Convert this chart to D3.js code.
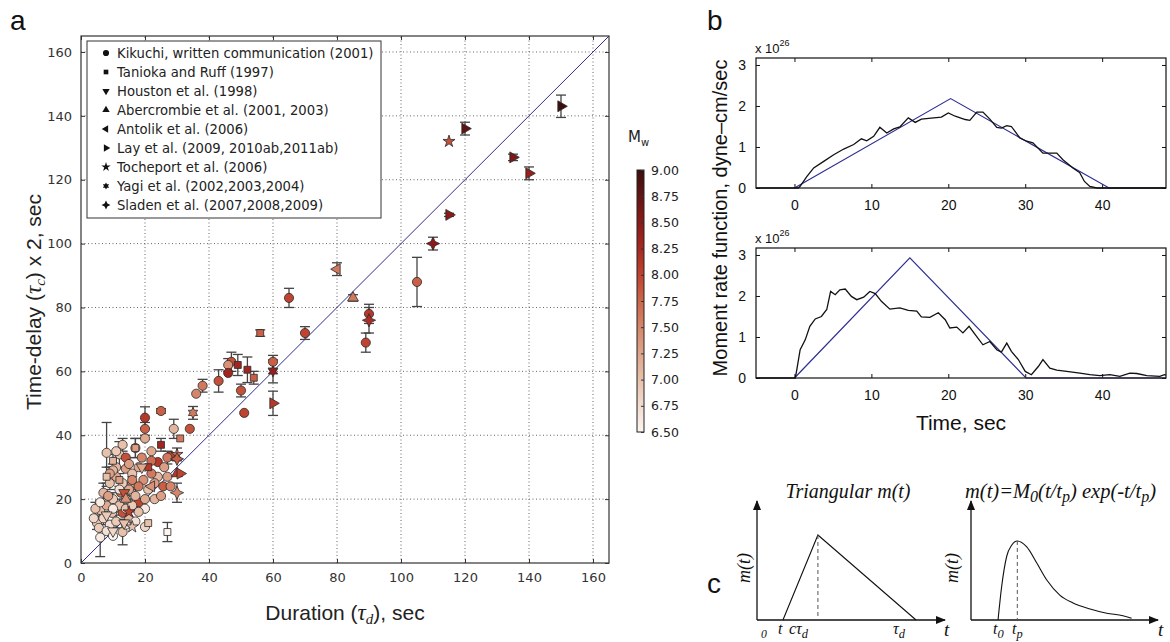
<!DOCTYPE html>
<html>
<head>
<meta charset="utf-8">
<script src="https://cdn.jsdelivr.net/npm/d3@7"></script>
<style>
  body { margin: 0; background: #fff; }
  svg { display: block; }
</style>
</head>
<body>
<svg id="fig" width="1170" height="642"></svg>
<script>
// ---------- data (panel a): [duration, timeDelay, errorHalf, Mw] ----------
const kikuchi = [
  [105, 88, 7.7, 7.8], [90, 78, 3, 8.1], [89, 69, 3, 8.0], [65, 83, 3, 8.0], [70, 72, 2, 8.0],
  [60, 63, 2, 7.8], [47, 63, 3, 7.9], [46, 62, 2, 7.4], [46, 59.5, 0, 8.3], [50, 54, 2, 7.9],
  [51, 47, 0, 8.0], [43, 57, 3.5, 7.9], [38, 55.5, 2, 7.6], [36, 53, 0, 7.5], [25, 47.6, 0.7, 7.8],
  [20, 45.5, 3.4, 8.1], [20, 42, 2, 7.8], [20, 39, 0, 7.2], [29, 42, 3, 7.1], [34, 42, 0, 7.9],
  [28, 33.5, 0, 8.0], [8, 34.5, 9.5, 7.0], [12, 34, 4, 7.0], [14, 33, 0, 7.9], [11, 30, 3, 7.1],
  [14, 29.5, 0, 7.3], [24, 31.6, 0, 8.1], [24, 27, 0, 7.1], [27, 27, 0, 7.3], [19.5, 26, 0, 7.4],
  [16, 25, 2, 7.3], [12.5, 22, 0, 7.7], [23, 25, 0, 7.3], [25.7, 24, 0, 7.8], [28, 24, 0, 7.5],
  [18, 19, 0, 8.0], [20, 20, 0, 7.2], [20, 17, 0, 6.6], [13, 15.7, 0, 7.9], [6, 16.6, 3, 7.0],
  [8, 18, 0, 7.2], [9.7, 15.7, 0, 7.0], [5, 12.5, 2, 6.9], [5.6, 11, 0, 6.9], [13, 9.7, 4, 7.0],
  [6, 8, 6, 6.6], [20, 11.3, 0, 6.8], [7, 22, 3, 7.1], [9, 25, 2, 7.0], [10, 20, 2, 6.9],
  [11, 27, 0, 7.2], [12, 18, 2, 7.0], [14, 20, 0, 6.8], [15, 23, 2, 7.2], [16, 28, 0, 7.0],
  [17, 21, 3, 7.1], [18, 30, 0, 7.2], [13, 25, 0, 6.9], [7, 14, 2, 6.8], [9, 12, 0, 6.7],
  [11, 13, 2, 6.9], [15, 14, 0, 7.1], [17, 13, 0, 6.7], [4, 14, 0, 6.8], [4.5, 17, 2, 7.0],
  [6, 19, 0, 6.6], [8.5, 21, 0, 7.3], [10, 17, 0, 6.6], [12, 23, 0, 6.7], [14, 17, 0, 7.0],
  [16, 18, 2, 6.9], [18, 16, 0, 7.0], [21, 23, 0, 7.0], [22, 28, 0, 7.6], [26, 30, 0, 7.3],
  [27, 33, 2, 7.6], [22, 35, 0, 7.2], [19, 33, 0, 7.5], [15, 31, 0, 7.3], [10, 29, 2, 7.1],
  [17, 36, 3, 7.4], [13, 37, 2, 7.0], [11, 35, 0, 6.9], [23, 20, 0, 7.1], [25, 21, 0, 7.3],
  [22, 32, 0, 7.7], [9, 28, 2, 7.3], [16, 26, 0, 7.5], [14, 12, 0, 6.6], [8, 10, 0, 6.7],
  [10, 8.5, 0, 6.5], [18, 24, 0, 7.6]
];
const tanioka = [
  [56, 72, 1, 7.8], [52, 60.5, 4, 8.3], [54, 58, 2, 7.8], [49, 62, 3.3, 8.3], [31, 39, 0, 7.6],
  [25, 37, 2, 8.3], [21, 30, 0, 8.1], [17, 36, 3, 7.3], [21, 12.5, 0, 7.0], [27, 9.7, 3, 6.5],
  [12, 26, 2, 7.3], [8, 27, 3, 7.0], [10, 32, 2, 7.1]
];
const houston = [[13.5, 22, 0, 7.9], [10, 10, 0, 6.8], [13.5, 12.5, 0, 7.0], [19, 30, 0, 7.2], [8, 15, 0, 6.9]];
const abercrombie = [[85, 83, 1, 7.6], [30, 28, 0, 8.1], [14, 20, 0, 7.4]];
const antolik = [[80, 92, 2, 7.6], [22, 24, 0, 7.4]];
const lay = [
  [150, 143, 3.5, 9.0], [120, 136, 2, 8.8], [135, 127, 1, 8.6], [140, 122, 2, 8.4],
  [115, 109, 0.5, 8.5], [60, 50, 3.8, 8.1], [31, 28, 0, 8.0]
];
const tocheport = [[115, 132, 0, 7.9], [15, 16, 0, 8.0], [16, 11.3, 0, 7.0], [30, 34, 2, 7.6]];
const yagi = [[60, 60, 3.6, 8.4], [35, 47, 2, 7.6]];
const sladen = [[110, 100, 2, 8.5], [90, 76, 4, 8.2], [30, 32.6, 0, 7.8], [30, 22, 3, 7.5]];

const legendLabels = [
  "Kikuchi, written communication (2001)", "Tanioka and Ruff (1997)", "Houston et al. (1998)",
  "Abercrombie et al. (2001, 2003)", "Antolik et al. (2006)", "Lay et al. (2009, 2010ab,2011ab)",
  "Tocheport et al. (2006)", "Yagi et al. (2002,2003,2004)", "Sladen et al. (2007,2008,2009)"
];
const axisTicks = [0, 20, 40, 60, 80, 100, 120, 140, 160];
const mwTicks = [6.5, 6.75, 7.0, 7.25, 7.5, 7.75, 8.0, 8.25, 8.5, 8.75, 9.0];
const mwColors = ["#fcf5f1", "#f2dccf", "#e8c1ab", "#dea48a", "#d5866a", "#cb664b", "#c0432f", "#a82822", "#8a1b19", "#661413", "#3d0e0e"];

// ---------- data (panel b): [time, moment rate x1e26] ----------
const topObs = [
  [-5, 0], [0.5, 0], [0.74, 0.04], [1.6, 0.28], [2.5, 0.49], [3.8, 0.65], [5.1, 0.81], [6.4, 0.95],
  [7.7, 1.06], [8.7, 1.2], [9.4, 1.15], [10.3, 1.26], [11.1, 1.48], [12, 1.34], [12.9, 1.44],
  [13.7, 1.49], [14.8, 1.71], [15.7, 1.6], [16.5, 1.68], [18.1, 1.71], [19.1, 1.73], [20, 1.83],
  [20.9, 1.75], [22.2, 1.67], [22.8, 1.65], [23.7, 1.85], [24.5, 1.85], [25.4, 1.68], [26.3, 1.48],
  [26.9, 1.46], [27.6, 1.52], [28.2, 1.5], [29.3, 1.22], [30.2, 1.14], [31, 1.1], [32.3, 0.85],
  [34.1, 0.85], [34.9, 0.69], [36.2, 0.49], [37.1, 0.37], [37.7, 0.16], [38.4, 0.04], [39.3, 0], [48.3, 0]
];
const topModel = [[0, 0], [20.3, 2.18], [40.9, 0], [48.3, 0]];
const botObs = [
  [-5, 0], [0.1, 0], [0.3, 0.2], [0.74, 0.69], [1.4, 0.93], [2, 1.26], [2.7, 1.44], [3.5, 1.5],
  [4.2, 1.67], [4.7, 2.11], [5.3, 2.03], [5.9, 2.15], [6.6, 2.17], [7.4, 1.99], [8.1, 1.91],
  [9, 1.97], [9.8, 2.11], [10.5, 2.06], [11.3, 1.87], [12.4, 1.68], [13.7, 1.71], [14.8, 1.65],
  [15.9, 1.63], [16.5, 1.49], [17.6, 1.48], [18.7, 1.59], [19.6, 1.42], [20.2, 1.22], [21.1, 1.24],
  [21.9, 1.1], [22.7, 1.26], [23.5, 1.06], [24.5, 0.81], [25.4, 0.89], [26.3, 0.69], [26.9, 0.63],
  [27.6, 0.85], [28.2, 0.65], [29.1, 0.45], [30, 0.16], [30.8, 0.08], [31.7, 0.28], [32.3, 0.45],
  [33.2, 0.24], [34.1, 0.19], [35.4, 0.16], [37.1, 0.12], [38.4, 0.08], [39.7, 0.06], [41, 0.08],
  [42.3, 0.04], [43.6, 0.12], [44.5, 0.11], [45.8, 0.06], [47.5, 0.04], [48.1, 0.08], [48.3, 0.07]
];
const botModel = [[0, 0], [15, 2.93], [30.1, 0], [48.3, 0]];
const bTimeTicks = [0, 10, 20, 30, 40];
const bValTicks = [0, 1, 2, 3];

// ---------- data (panel c), schematic shapes ----------
const triShape = [[1.38, 0], [3.24, 1], [8.46, 0]];
const triPeak = 3.24;
const expShape = [
  [1.43, 0], [1.62, 0.39], [1.89, 0.75], [2.15, 0.88], [2.45, 0.93], [2.95, 0.86], [3.48, 0.67],
  [4.01, 0.47], [4.71, 0.29], [5.40, 0.20], [6.30, 0.13], [7.18, 0.08], [8.04, 0.05], [8.50, 0.02]
];
const expPeak = [2.45, 0.93];

const svg = d3.select("#fig");
const SANS = "'Liberation Sans', Arial, sans-serif";
const DEJA = "'DejaVu Sans', sans-serif";
const SERIF = "'Liberation Serif', 'Times New Roman', serif";

const mwColor = d3.scaleLinear().domain(mwTicks).range(mwColors);

// ---------- panel a ----------
const x = d3.scaleLinear().domain([0, 165]).range([81, 609]);
const y = d3.scaleLinear().domain([0, 165]).range([563, 36]);
const pa = svg.append("g");

pa.append("g").selectAll("line").data(axisTicks.slice(1)).join("line")
  .attr("x1", d => x(d)).attr("x2", d => x(d)).attr("y1", y(0)).attr("y2", y(165))
  .attr("stroke", "#666").attr("stroke-width", 1).attr("stroke-dasharray", "1,2.5");
pa.append("g").selectAll("line").data(axisTicks.slice(1)).join("line")
  .attr("y1", d => y(d)).attr("y2", d => y(d)).attr("x1", x(0)).attr("x2", x(165))
  .attr("stroke", "#666").attr("stroke-width", 1).attr("stroke-dasharray", "1,2.5");

function styleAxis(g) {
  g.select(".domain").remove();
  g.selectAll(".tick line").attr("stroke", "#333");
  g.selectAll("text").attr("font-family", DEJA).attr("font-size", 13).attr("fill", "#333");
}
pa.append("g").attr("transform", `translate(0,${y(0)})`)
  .call(d3.axisBottom(x).tickValues(axisTicks).tickSizeInner(-4).tickSizeOuter(0).tickPadding(10)).call(styleAxis);
pa.append("g").attr("transform", `translate(0,${y(165)})`)
  .call(d3.axisTop(x).tickValues(axisTicks).tickFormat("").tickSizeInner(-4).tickSizeOuter(0)).call(styleAxis);
pa.append("g").attr("transform", `translate(${x(0)},0)`)
  .call(d3.axisLeft(y).tickValues(axisTicks).tickSizeInner(-4).tickSizeOuter(0).tickPadding(9)).call(styleAxis);
pa.append("g").attr("transform", `translate(${x(165)},0)`)
  .call(d3.axisRight(y).tickValues(axisTicks).tickFormat("").tickSizeInner(-4).tickSizeOuter(0)).call(styleAxis);

// 1:1 line
pa.append("line").attr("x1", x(0)).attr("y1", y(0)).attr("x2", x(165)).attr("y2", y(165))
  .attr("stroke", "#2e2e90").attr("stroke-width", 1);

// custom symbols
const symbolStar6 = {
  draw(ctx, size) {
    const r = Math.sqrt(size / 2.4), ri = r * 0.55;
    for (let i = 0; i < 12; i++) {
      const a = -Math.PI / 2 + i * Math.PI / 6, rr = i % 2 ? ri : r;
      if (i === 0) ctx.moveTo(rr * Math.cos(a), rr * Math.sin(a)); else ctx.lineTo(rr * Math.cos(a), rr * Math.sin(a));
    }
    ctx.closePath();
  }
};
const symbolStar4 = {
  draw(ctx, size) {
    const r = Math.sqrt(size / 1.6), ri = r * 0.45;
    for (let i = 0; i < 8; i++) {
      const a = -Math.PI / 2 + i * Math.PI / 4, rr = i % 2 ? ri : r;
      if (i === 0) ctx.moveTo(rr * Math.cos(a), rr * Math.sin(a)); else ctx.lineTo(rr * Math.cos(a), rr * Math.sin(a));
    }
    ctx.closePath();
  }
};

const sources = [
  { data: kikuchi, type: d3.symbolCircle, size: 66, rot: 0 },
  { data: tanioka, type: d3.symbolSquare, size: 48, rot: 0 },
  { data: houston, type: d3.symbolTriangle, size: 52, rot: 180 },
  { data: abercrombie, type: d3.symbolTriangle, size: 52, rot: 0 },
  { data: antolik, type: d3.symbolTriangle, size: 52, rot: -90 },
  { data: lay, type: d3.symbolTriangle, size: 52, rot: 90 },
  { data: tocheport, type: d3.symbolStar, size: 45, rot: 0 },
  { data: yagi, type: symbolStar6, size: 70, rot: 0 },
  { data: sladen, type: symbolStar4, size: 70, rot: 0 }
];

// error bars
const bars = pa.append("g").attr("stroke", "#444").attr("stroke-width", 1.3);
sources.forEach(s => {
  s.data.filter(d => d[2] > 0).forEach(d => {
    const cx = x(d[0]), y1 = y(d[1] - d[2]), y2 = y(d[1] + d[2]);
    bars.append("line").attr("x1", cx).attr("x2", cx).attr("y1", y1).attr("y2", y2);
    bars.append("line").attr("x1", cx - 5).attr("x2", cx + 5).attr("y1", y1).attr("y2", y1);
    bars.append("line").attr("x1", cx - 5).attr("x2", cx + 5).attr("y1", y2).attr("y2", y2);
  });
});

// markers
const marks = pa.append("g");
sources.forEach(s => {
  marks.append("g").selectAll("path").data(s.data).join("path")
    .attr("d", d3.symbol().type(s.type).size(s.size))
    .attr("transform", d => `translate(${x(d[0])},${y(d[1])}) rotate(${s.rot})`)
    .attr("fill", d => mwColor(d[3]))
    .attr("stroke", "#2a2a2a").attr("stroke-width", 0.8);
});

// frame
pa.append("rect").attr("x", x(0)).attr("y", y(165)).attr("width", x(165) - x(0)).attr("height", y(0) - y(165))
  .attr("fill", "none").attr("stroke", "#333").attr("stroke-width", 1.2);

// legend
const lg = pa.append("g");
lg.append("rect").attr("x", 87).attr("y", 41).attr("width", 294).attr("height", 177)
  .attr("fill", "#fff").attr("stroke", "#333").attr("stroke-width", 1);
legendLabels.forEach((lab, i) => {
  const ly = 53 + i * 19;
  const s = sources[i];
  lg.append("path").attr("d", d3.symbol().type(s.type).size(s.size * (i === 6 ? 0.6 : 0.45)))
    .attr("transform", `translate(106,${ly}) rotate(${s.rot})`).attr("fill", "#111");
  lg.append("text").attr("x", 117).attr("y", ly).attr("dy", "0.35em")
    .attr("font-family", DEJA).attr("font-size", 13.2).attr("fill", "#222").text(lab);
});

// axis titles
const ylab = pa.append("text").attr("transform", "translate(41,302) rotate(-90)")
  .attr("text-anchor", "middle").attr("font-family", SANS).attr("font-size", 21).attr("fill", "#222");
ylab.append("tspan").text("Time-delay (");
ylab.append("tspan").attr("font-family", SERIF).attr("font-style", "italic").attr("font-size", 23).text("τ");
ylab.append("tspan").attr("font-family", SERIF).attr("font-style", "italic").attr("font-size", 15).attr("dy", 4).text("c");
ylab.append("tspan").attr("dy", -4).text(") x 2, sec");

const xlab = pa.append("text").attr("x", 345).attr("y", 620)
  .attr("text-anchor", "middle").attr("font-family", SANS).attr("font-size", 21).attr("fill", "#222");
xlab.append("tspan").text("Duration (");
xlab.append("tspan").attr("font-family", SERIF).attr("font-style", "italic").attr("font-size", 23).text("τ");
xlab.append("tspan").attr("font-family", SERIF).attr("font-style", "italic").attr("font-size", 15).attr("dy", 4).text("d");
xlab.append("tspan").attr("dy", -4).text("), sec");

// colorbar
const cb = d3.scaleLinear().domain([6.5, 9]).range([432, 170]);
const grad = svg.append("defs").append("linearGradient").attr("id", "mwgrad")
  .attr("x1", 0).attr("y1", 1).attr("x2", 0).attr("y2", 0);
mwTicks.forEach((m, i) => grad.append("stop").attr("offset", (m - 6.5) / 2.5).attr("stop-color", mwColors[i]));
pa.append("rect").attr("x", 637).attr("y", cb(9)).attr("width", 7).attr("height", cb(6.5) - cb(9))
  .attr("fill", "url(#mwgrad)").attr("stroke", "#222").attr("stroke-width", 1);
pa.append("g").attr("transform", "translate(644,0)")
  .call(d3.axisRight(cb).tickValues(mwTicks).tickFormat(d3.format(".2f")).tickSizeInner(-3).tickSizeOuter(0).tickPadding(7))
  .call(g => {
    g.select(".domain").remove();
    g.selectAll(".tick line").attr("stroke", "#333");
    g.selectAll("text").attr("font-family", DEJA).attr("font-size", 12.5).attr("fill", "#222");
  });
const mwl = pa.append("text").attr("x", 628).attr("y", 142).attr("font-family", DEJA).attr("font-size", 15).attr("fill", "#222");
mwl.append("tspan").text("M");
mwl.append("tspan").attr("font-size", 10).attr("dy", 4).text("w");

// ---------- panel b ----------
const bx = d3.scaleLinear().domain([-5, 48.3]).range([756, 1166]);
function mrfPanel(top, bottom, obs, model) {
  const by = d3.scaleLinear().domain([0, 3.17]).range([bottom, top]);
  const g = svg.append("g");
  const st = a => {
    a.select(".domain").remove();
    a.selectAll(".tick line").attr("stroke", "#111");
    a.selectAll("text").attr("font-family", SANS).attr("font-size", 14).attr("fill", "#111");
  };
  g.append("g").attr("transform", `translate(0,${bottom})`)
    .call(d3.axisBottom(bx).tickValues(bTimeTicks).tickSizeInner(-4).tickSizeOuter(0).tickPadding(12)).call(st);
  g.append("g").attr("transform", `translate(0,${top})`)
    .call(d3.axisTop(bx).tickValues(bTimeTicks).tickFormat("").tickSizeInner(-4).tickSizeOuter(0)).call(st);
  g.append("g").attr("transform", `translate(756,0)`)
    .call(d3.axisLeft(by).tickValues(bValTicks).tickFormat(d3.format("d")).tickSizeInner(-4).tickSizeOuter(0).tickPadding(10)).call(st);
  g.append("g").attr("transform", `translate(1166,0)`)
    .call(d3.axisRight(by).tickValues(bValTicks).tickFormat("").tickSizeInner(-4).tickSizeOuter(0)).call(st);
  const line = d3.line().x(d => bx(d[0])).y(d => by(d[1]));
  g.append("path").attr("d", line(model)).attr("fill", "none").attr("stroke", "#2e2e92").attr("stroke-width", 1.2);
  g.append("path").attr("d", line(obs)).attr("fill", "none").attr("stroke", "#111").attr("stroke-width", 1.3);
  g.append("rect").attr("x", 756).attr("y", top).attr("width", 410).attr("height", bottom - top)
    .attr("fill", "none").attr("stroke", "#111").attr("stroke-width", 1.2);
  const ex = g.append("text").attr("x", 755).attr("y", top - 5).attr("font-family", SANS).attr("font-size", 13).attr("fill", "#111");
  ex.append("tspan").text("x 10");
  ex.append("tspan").attr("font-size", 9).attr("dy", -7).text("26");
}
mrfPanel(58, 188, topObs, topModel);
mrfPanel(248, 378, botObs, botModel);

svg.append("text").attr("transform", "translate(727,218) rotate(-90)").attr("text-anchor", "middle")
  .attr("font-family", SANS).attr("font-size", 20).attr("fill", "#111").text("Moment rate function, dyne\u2013cm/sec");
svg.append("text").attr("x", 961).attr("y", 430).attr("text-anchor", "middle")
  .attr("font-family", SANS).attr("font-size", 21).attr("fill", "#111").text("Time, sec");

// ---------- panel c ----------
const defs = svg.select("defs");
defs.append("marker").attr("id", "arr").attr("viewBox", "0 0 10 8").attr("refX", 9).attr("refY", 4)
  .attr("markerWidth", 10).attr("markerHeight", 8).attr("markerUnits", "userSpaceOnUse").attr("orient", "auto")
  .append("path").attr("d", "M0,0 L10,4 L0,8 z").attr("fill", "#111");

const pc = svg.append("g");
const cy = d3.scaleLinear().domain([0, 1]).range([620, 535]);
const cxl = d3.scaleLinear().domain([0, 10]).range([757, 945]);
const cxr = d3.scaleLinear().domain([0, 10]).range([971, 1160]);

function cAxes(x0, xEnd) {
  pc.append("line").attr("x1", x0).attr("y1", 620).attr("x2", xEnd).attr("y2", 620)
    .attr("stroke", "#111").attr("stroke-width", 1.3).attr("marker-end", "url(#arr)");
  pc.append("line").attr("x1", x0).attr("y1", 620).attr("x2", x0).attr("y2", 501)
    .attr("stroke", "#111").attr("stroke-width", 1.3).attr("marker-end", "url(#arr)");
}
cAxes(757, 945);
cAxes(971, 1158);

pc.append("path").attr("d", d3.line().x(d => cxl(d[0])).y(d => cy(d[1]))(triShape))
  .attr("fill", "none").attr("stroke", "#111").attr("stroke-width", 1.1);
pc.append("line").attr("x1", cxl(triPeak)).attr("x2", cxl(triPeak)).attr("y1", cy(1)).attr("y2", 620)
  .attr("stroke", "#555").attr("stroke-dasharray", "4,3");
pc.append("path").attr("d", d3.line().curve(d3.curveMonotoneX).x(d => cxr(d[0])).y(d => cy(d[1]))(expShape))
  .attr("fill", "none").attr("stroke", "#111").attr("stroke-width", 1.1);
pc.append("line").attr("x1", cxr(expPeak[0])).attr("x2", cxr(expPeak[0])).attr("y1", cy(expPeak[1])).attr("y2", 620)
  .attr("stroke", "#555").attr("stroke-dasharray", "4,3");

function ital(xp, yp, size, parts, anchor) {
  const t = svg.append("text").attr("x", xp).attr("y", yp).attr("text-anchor", anchor || "start")
    .attr("font-family", SERIF).attr("font-style", "italic").attr("font-size", size).attr("fill", "#111");
  let shift = 0;
  parts.forEach(p => {
    const sub = Array.isArray(p);
    const txt = sub ? p[0] : p;
    const want = sub ? 4 : 0;
    t.append("tspan").attr("dy", want - shift).attr("font-size", sub ? size * 0.78 : size).text(txt);
    shift = want;
  });
  return t;
}
ital(848, 498, 20, ["Triangular m(t)"], "middle");
ital(965, 498, 20.5, ["m(t)=M", ["0"], "(t/t", ["p"], ") exp(-t/t", ["p"], ")"]);
ital(944, 636, 19, ["t"]);
ital(1158, 636, 19, ["t"]);
ital(761, 634, 15, [["0"]]);
ital(778, 634, 16, ["t"]);
ital(789, 634, 16, ["c\u03c4", ["d"]]);
ital(893, 634, 16, ["\u03c4", ["d"]]);
ital(993, 634, 16, ["t", ["0"]]);
ital(1012, 634, 16, ["t", ["p"]]);
ital(0, 0, 18, ["m(t)"], "middle").attr("transform", "translate(750,568) rotate(-90)");
ital(0, 0, 18, ["m(t)"], "middle").attr("transform", "translate(958,568) rotate(-90)");

// panel letters
[["a", 10, 30], ["b", 707, 30], ["c", 707, 593]].forEach(([l, lx, ly]) => {
  svg.append("text").attr("x", lx).attr("y", ly).attr("font-family", SANS).attr("font-size", 28).attr("fill", "#111").text(l);
});
</script>
</body>
</html>
